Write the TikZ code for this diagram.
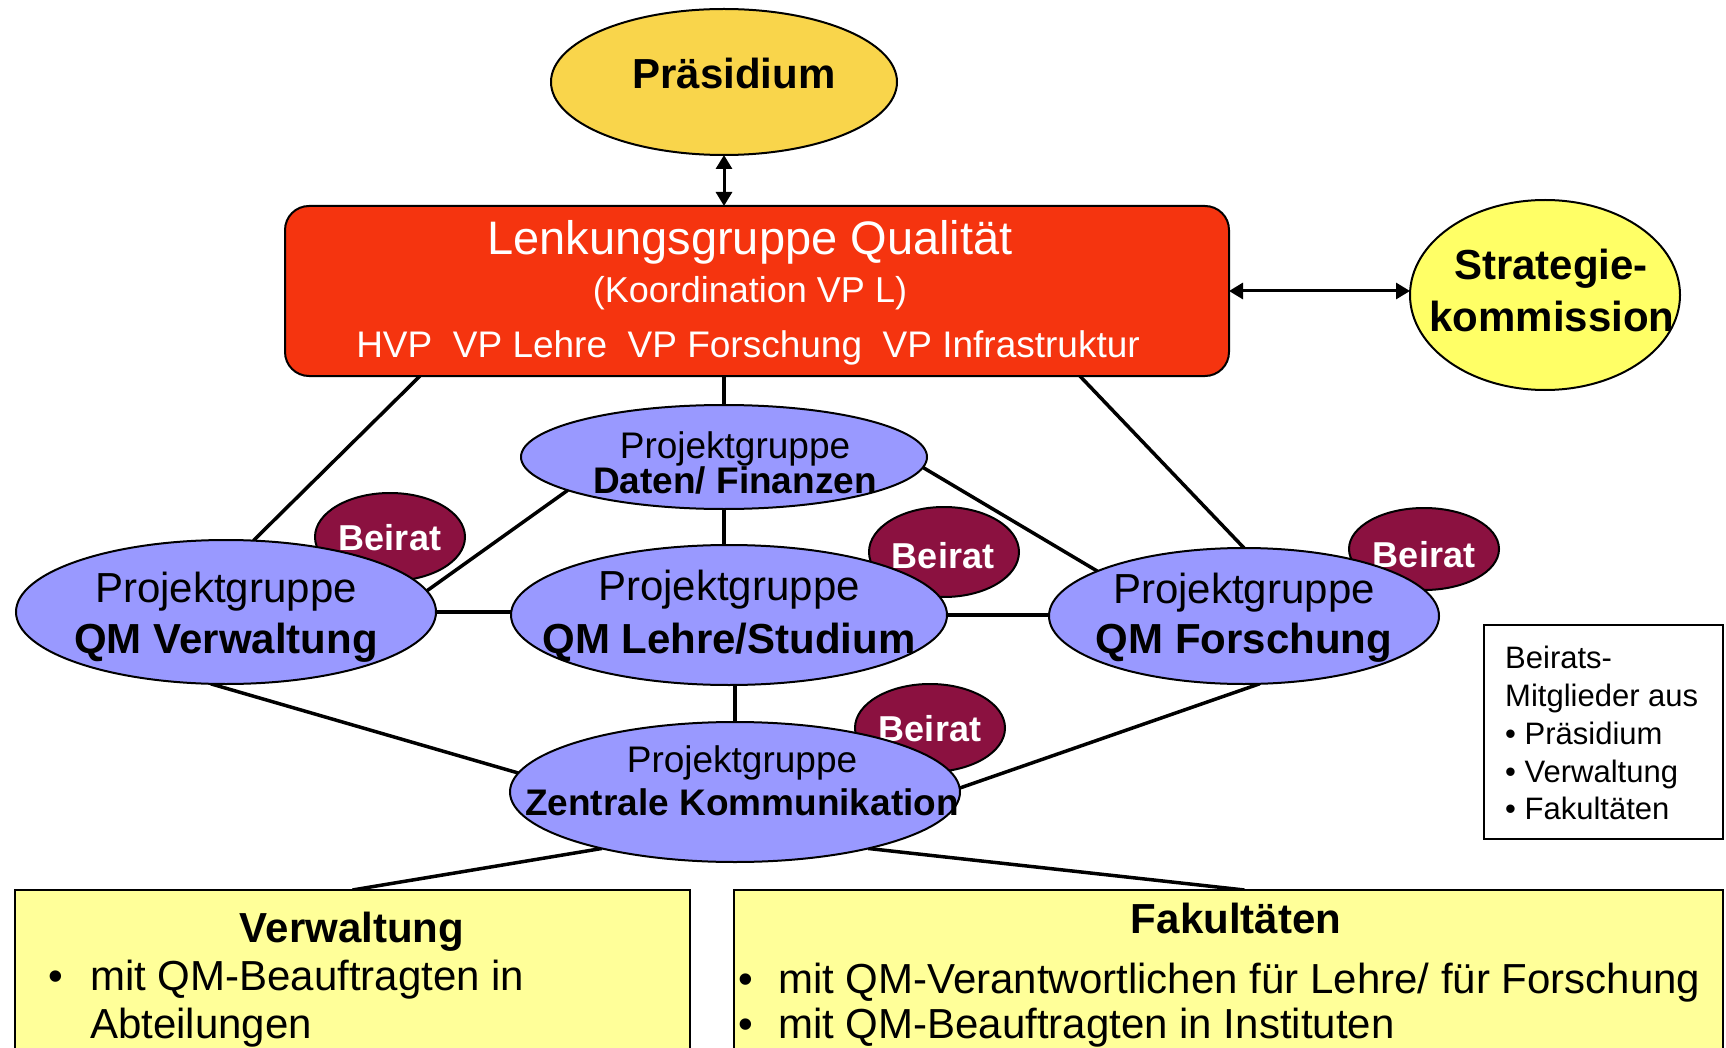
\documentclass[tikz,border=0pt]{standalone}
\usepackage{fontspec}
\setmainfont{Liberation Sans}
\usetikzlibrary{shapes.geometric,arrows.meta,calc}

\definecolor{praegold}{HTML}{F9D54B}
\definecolor{lenkred}{HTML}{F5340F}
\definecolor{stratyellow}{HTML}{FFFF66}
\definecolor{pglilac}{HTML}{9999FF}
\definecolor{beiratred}{HTML}{8B1140}
\definecolor{boxyellow}{HTML}{FFFF99}

\newcommand{\fsz}[1]{\fontsize{#1}{#1}\selectfont}

\pgfdeclarelayer{linklayer}
\pgfdeclarelayer{beiratlayer}
\pgfsetlayers{linklayer,beiratlayer,main}

\begin{document}
\begin{tikzpicture}[x=1pt, y=-1pt,
  oval/.style={ellipse, draw=black, line width=2pt, inner sep=0pt, outer sep=0pt},
  pgoval/.style={oval, fill=pglilac},
  beiratoval/.style={oval, fill=beiratred, minimum width=150pt},
  txt/.style={inner sep=0pt, anchor=base},
  ltxt/.style={inner sep=0pt, anchor=base west},
  legtxt/.style={ltxt, font=\fsz{31}},
  link/.style={line width=3.5pt},
  dbl/.style={line width=3pt, {Triangle[length=14pt,width=16pt]}-{Triangle[length=14pt,width=16pt]}},
  infobox/.style={draw=black, line width=2pt, inner sep=0pt, outer sep=0pt}]

\useasboundingbox (0,0) rectangle (1726,1048);
\clip (0,0) rectangle (1726,1048);

% top level
\node[oval, fill=praegold, minimum width=346pt, minimum height=146pt] (prae) at (724,82) {};
\node[txt] at (734,89) {\fsz{42}\bfseries Präsidium};

\node[draw=black, line width=2pt, fill=lenkred, rounded corners=24pt,
      minimum width=944pt, minimum height=170pt, inner sep=0pt, outer sep=0pt] (lenk) at (757,291) {};
\node[txt, text=white] at (750,255) {\fsz{47}Lenkungsgruppe Qualität};
\node[txt, text=white] at (750,303) {\fsz{36}(Koordination VP L)};
\node[txt, text=white] at (748,358) {\fsz{37}HVP\ \ VP Lehre\ \ VP Forschung\ \ VP Infrastruktur};

\node[oval, fill=stratyellow, minimum width=270pt, minimum height=190pt] (strat) at (1545,295) {};
\node[txt] at (1551,280) {\fsz{42}\bfseries Strategie-};
\node[txt] at (1552,332) {\fsz{42}\bfseries kommission};

% advisory boards, partly covered by the project groups
\begin{pgfonlayer}{beiratlayer}
  \node[beiratoval, minimum height=88pt] (beirat1) at (390,537) {};
  \node[txt, text=white] at (390,550) {\fsz{36}\bfseries Beirat};
  \node[beiratoval, minimum height=90pt] (beirat2) at (944,552) {};
  \node[txt, text=white] at (943,568) {\fsz{36}\bfseries Beirat};
  \node[beiratoval, minimum height=82pt] (beirat3) at (1424,549) {};
  \node[txt, text=white] at (1424,567) {\fsz{36}\bfseries Beirat};
  \node[beiratoval, minimum height=88pt] (beirat4) at (930,728) {};
  \node[txt, text=white] at (930,741) {\fsz{36}\bfseries Beirat};
\end{pgfonlayer}

% project groups
\node[pgoval, minimum width=406pt, minimum height=104pt] (daten) at (724,457) {};
\node[txt] at (735,458) {\fsz{37}Projektgruppe};
\node[txt] at (735,493) {\fsz{37}\bfseries Daten/ Finanzen};

\node[pgoval, minimum width=420pt, minimum height=144pt] (verw) at (226,612) {};
\node[txt] at (226,602) {\fsz{42}Projektgruppe};
\node[txt] at (226,653) {\fsz{42}\bfseries QM Verwaltung};

\node[pgoval, minimum width=436pt, minimum height=140pt] (lehre) at (729,615) {};
\node[txt] at (729,600) {\fsz{42}Projektgruppe};
\node[txt] at (729,653) {\fsz{42}\bfseries QM Lehre/Studium};

\node[pgoval, minimum width=390pt, minimum height=136pt] (forsch) at (1244,616) {};
\node[txt] at (1244,603) {\fsz{42}Projektgruppe};
\node[txt] at (1244,653) {\fsz{42}\bfseries QM Forschung};

\node[pgoval, minimum width=450pt, minimum height=140pt] (zentr) at (735,792) {};
\node[txt] at (742,772) {\fsz{37}Projektgruppe};
\node[txt] at (742,815) {\fsz{37}\bfseries Zentrale Kommunikation};

% legend
\node[infobox, fill=white, minimum width=239pt, minimum height=214pt] (legend) at (1603.5,732) {};
\node[legtxt] at (1505,668) {Beirats-};
\node[legtxt] at (1505,706) {Mitglieder aus};
\node[legtxt] at (1505,744) {• Präsidium};
\node[legtxt] at (1505,782) {• Verwaltung};
\node[legtxt] at (1505,819) {• Fakultäten};

% bottom boxes
\node[infobox, fill=boxyellow, minimum width=675pt, minimum height=210pt] (vbox) at (352.5,995) {};
\node[txt] at (352,942) {\fsz{42}\bfseries Verwaltung};
\node[txt] at (56,990) {\fsz{42}•};
\node[ltxt] at (90,990) {\fsz{42}mit QM-Beauftragten in};
\node[ltxt] at (90,1038) {\fsz{42}Abteilungen};

\node[infobox, fill=boxyellow, minimum width=989pt, minimum height=210pt] (fbox) at (1228.5,995) {};
\node[txt] at (1236,933) {\fsz{42}\bfseries Fakultäten};
\node[txt] at (746,993) {\fsz{42}•};
\node[ltxt] at (778,993) {\fsz{42}mit QM-Verantwortlichen für Lehre/ für Forschung};
\node[txt] at (746,1038) {\fsz{42}•};
\node[ltxt] at (778,1038) {\fsz{42}mit QM-Beauftragten in Instituten};

% connectors
\begin{pgfonlayer}{linklayer}
  \draw[dbl] (prae.south) -- (prae.south |- lenk.north);
  \draw[dbl] (lenk.east) -- (lenk.east -| strat.west);
  \draw[link] ($(lenk.south west)!0.143!(lenk.south east)$) -- (verw.69);
  \draw[link] ($(lenk.south west)!0.842!(lenk.south east)$) -- (forsch.north);
  \draw[link] (lenk.south -| daten.north) -- (daten.north);
  \draw[link] (daten.192) -- (verw.6);
  \draw[link] (daten.357) -- (forsch.163);
  \draw[link] (daten.south) -- (daten.south |- lehre.north);
  \draw[link] (verw.east) -- (verw.east -| lehre.west);
  \draw[link] (lehre.east) -- (lehre.east -| forsch.west);
  \draw[link] (zentr.north) -- (zentr.north |- lehre.south);
  \draw[link] (verw.258) -- (zentr.175);
  \draw[link] (forsch.283) -- (zentr.1);
  \draw[link] (zentr.203) -- (vbox.north);
  \draw[link] (zentr.337) -- ($(fbox.north west)!0.516!(fbox.north east)$);
\end{pgfonlayer}

\end{tikzpicture}
\end{document}
